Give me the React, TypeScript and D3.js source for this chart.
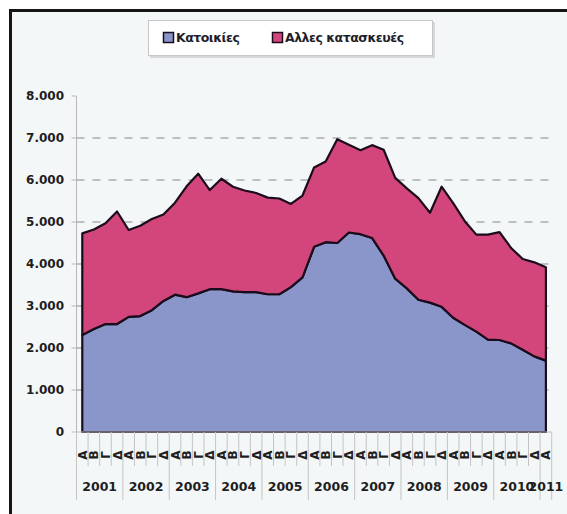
import React, { useEffect, useRef } from "react";
import * as d3 from "d3";

// quarterly values 2001 Q1 - 2011 Q1
const years = ["2001", "2002", "2003", "2004", "2005", "2006", "2007", "2008", "2009", "2010", "2011"];
const quarters = ["Α", "Β", "Γ", "Δ"];
const seriesNames = ["Κατοικίες", "Αλλες κατασκευές"];

const residential = [
  2310, 2450, 2570, 2570, 2740, 2760, 2900, 3120, 3270, 3210, 3300, 3400, 3400, 3350, 3330, 3330,
  3280, 3280, 3450, 3680, 4410, 4520, 4500, 4750, 4710, 4620, 4200, 3650, 3420, 3150, 3080, 2980,
  2720, 2550, 2390, 2200, 2190, 2110, 1960, 1800, 1700,
];
const other = [
  2420, 2370, 2400, 2680, 2070, 2150, 2170, 2060, 2190, 2640, 2850, 2360, 2630, 2490, 2420, 2360,
  2300, 2280, 1980, 1950, 1890, 1920, 2470, 2090, 2000, 2210, 2520, 2400, 2380, 2420, 2140, 2860,
  2730, 2470, 2310, 2500, 2570, 2270, 2160, 2240, 2220,
];
const yTicks = [0, 1000, 2000, 3000, 4000, 5000, 6000, 7000, 8000];

const colors = ["#8a96ca", "#d3467b"];
const font = "'DejaVu Sans', Verdana, sans-serif";

function drawChart(ref: React.MutableRefObject<SVGSVGElement | null>) {
  const W = 567;
  const H = 514;
  const plot = { left: 76.5, right: 551.7, top: 96, bottom: 432 };

  const svg = d3.select(ref.current);
  svg.selectAll("*").remove();
  svg.attr("width", W).attr("height", H);

  // page + frame
  svg.append("rect").attr("width", W).attr("height", H).attr("fill", "#ffffff");
  svg
    .append("rect")
    .attr("x", 10.5)
    .attr("y", 10.5)
    .attr("width", W + 20)
    .attr("height", H + 20)
    .attr("fill", "#f4f7f7")
    .attr("stroke", "#151515")
    .attr("stroke-width", 3);

  const rows = residential.map((r, i) => ({
    i,
    year: years[Math.floor(i / 4)],
    q: quarters[i % 4],
    res: r,
    oth: other[i],
  }));

  const x = d3
    .scaleBand<number>()
    .domain(rows.map((d) => d.i))
    .range([plot.left, plot.right])
    .paddingInner(0)
    .paddingOuter(0);
  const bw = x.bandwidth();
  const cx = (i: number) => (x(i) as number) + bw / 2;

  const y = d3.scaleLinear().domain([0, 8000]).range([plot.bottom, plot.top]);
  const fmt = d3.formatLocale({ decimal: ",", thousands: ".", grouping: [3], currency: ["€", ""] }).format(",");

  // dashed gridlines
  svg
    .append("g")
    .selectAll("line")
    .data(yTicks.filter((t) => t > 0 && t < 8000))
    .enter()
    .append("line")
    .attr("x1", plot.left)
    .attr("x2", plot.right)
    .attr("y1", (d) => y(d))
    .attr("y2", (d) => y(d))
    .attr("stroke", "#8a8a8a")
    .attr("stroke-width", 1)
    .attr("stroke-dasharray", "8,8");

  // stacked areas
  const stack = d3.stack<any>().keys(["res", "oth"]);
  const layers = stack(rows);
  const area = d3
    .area<any>()
    .x((d) => cx(d.data.i))
    .y0((d) => y(d[0]))
    .y1((d) => y(d[1]));

  svg
    .append("g")
    .selectAll("path")
    .data(layers)
    .enter()
    .append("path")
    .attr("d", (d) => area(d as any) || "")
    .attr("fill", (_d, k) => colors[k])
    .attr("stroke", "#1a0c1c")
    .attr("stroke-width", 2.2)
    .attr("stroke-linejoin", "round");

  // y axis
  svg
    .append("line")
    .attr("x1", plot.left)
    .attr("x2", plot.left)
    .attr("y1", plot.top)
    .attr("y2", plot.bottom)
    .attr("stroke", "#b8b8b8");
  const yg = svg.append("g").selectAll("g").data(yTicks).enter().append("g");
  yg.append("line")
    .attr("x1", plot.left - 5)
    .attr("x2", plot.left)
    .attr("y1", (d) => y(d))
    .attr("y2", (d) => y(d))
    .attr("stroke", "#b8b8b8");
  yg.append("text")
    .attr("x", 64)
    .attr("y", (d) => y(d))
    .attr("dy", "0.35em")
    .attr("text-anchor", "end")
    .style("font-family", font)
    .style("font-weight", "bold")
    .style("font-size", "12px")
    .attr("fill", "#1e1e1e")
    .text((d) => fmt(d));

  // x axis line
  svg
    .append("line")
    .attr("x1", plot.left)
    .attr("x2", plot.right)
    .attr("y1", plot.bottom)
    .attr("y2", plot.bottom)
    .attr("stroke", "#b8b8b8");

  // quarter ticks
  const bounds = rows.map((d) => x(d.i) as number).concat([plot.right]);
  svg
    .append("g")
    .selectAll("line")
    .data(bounds)
    .enter()
    .append("line")
    .attr("x1", (d) => d)
    .attr("x2", (d) => d)
    .attr("y1", plot.bottom)
    .attr("y2", (d, k) => (k % 4 === 0 || k === bounds.length - 1 ? 500 : 466))
    .attr("stroke", "#c4c4c4");

  // quarter letters
  svg
    .append("g")
    .selectAll("text")
    .data(rows)
    .enter()
    .append("text")
    .attr("transform", (d) => `translate(${cx(d.i) + 4.5},455)rotate(-90)`)
    .attr("text-anchor", "middle")
    .style("font-family", font)
    .style("font-weight", "bold")
    .style("font-size", "12px")
    .attr("fill", "#1e1e1e")
    .text((d) => d.q);

  // year labels
  const yearGroups = d3.groups(rows, (d) => d.year);
  svg
    .append("g")
    .selectAll("text")
    .data(yearGroups)
    .enter()
    .append("text")
    .attr("x", (g) => (x(g[1][0].i) as number + (x(g[1][g[1].length - 1].i) as number) + bw) / 2)
    .attr("y", 487)
    .attr("dy", "0.35em")
    .attr("text-anchor", "middle")
    .style("font-family", font)
    .style("font-weight", "bold")
    .style("font-size", "12.5px")
    .attr("fill", "#1e1e1e")
    .text((g) => g[0]);

  // legend
  const lg = svg.append("g");
  lg.append("rect").attr("x", 150).attr("y", 22).attr("width", 285).attr("height", 36).attr("fill", "#d8d8d8");
  lg.append("rect")
    .attr("x", 148.5)
    .attr("y", 20.5)
    .attr("width", 284)
    .attr("height", 35)
    .attr("fill", "#ffffff")
    .attr("stroke", "#c6c6c6");
  const items = [
    { name: seriesNames[0], x: 163 },
    { name: seriesNames[1], x: 272 },
  ];
  items.forEach((it, k) => {
    lg.append("rect")
      .attr("x", it.x + 0.5)
      .attr("y", 32.5)
      .attr("width", 10)
      .attr("height", 10)
      .attr("fill", colors[k])
      .attr("stroke", "#1a0c1c")
      .attr("stroke-width", 1.5);
    lg.append("text")
      .attr("x", it.x + 13)
      .attr("y", 38)
      .attr("dy", "0.35em")
      .style("font-family", font)
      .style("font-weight", "bold")
      .style("font-size", "12.5px")
      .style("letter-spacing", "-0.5px")
      .attr("fill", "#1e1e2a")
      .text(it.name);
  });
}

const App = () => {
  const ref = useRef<SVGSVGElement | null>(null);
  useEffect(() => {
    drawChart(ref);
  }, []);

  return (
    <div style={{ position: "absolute", left: 0, top: 0 }}>
      <svg ref={ref} style={{ display: "block" }} />
    </div>
  );
};

export default App;
